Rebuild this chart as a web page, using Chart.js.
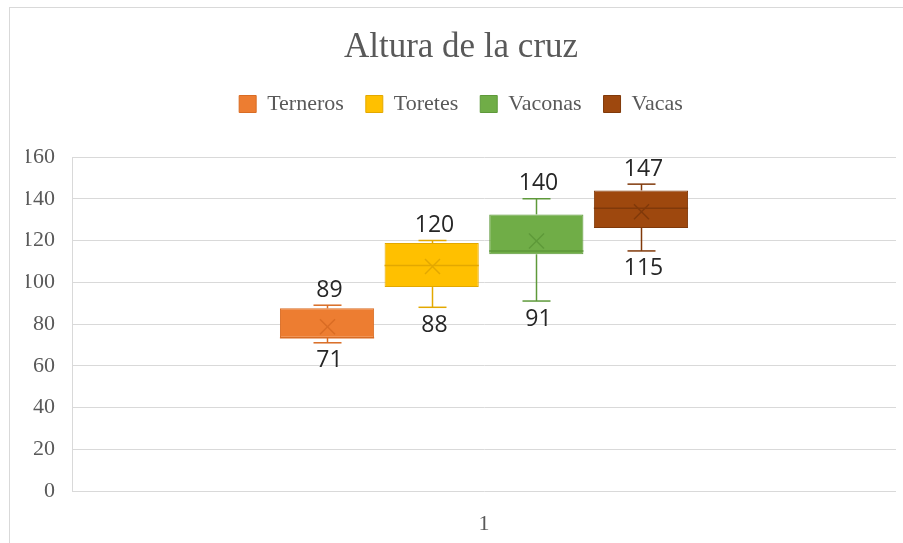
<!DOCTYPE html>
<html>
<head>
<meta charset="utf-8">
<title>Altura de la cruz</title>
<script src="https://cdn.jsdelivr.net/npm/chart.js@4.4.1/dist/chart.umd.min.js"></script>
<style>
  html, body { margin: 0; padding: 0; background: #ffffff; }
  #graph-container-altura { width: 903px; height: 543px; }
</style>
</head>
<body>
<div id="graph-container-altura"><canvas id="chart-graph-altura" width="903" height="543"></canvas></div>
<script>
// data
var categories = ['1'];
var groups = ['Terneros', 'Toretes', 'Vaconas', 'Vacas'];
var minValues = [71, 88, 91, 115];
var q1Values = [73.4, 97.7, 113.4, 126];
var medianValues = [73.4, 108, 115, 135.4];
var q3Values = [87.5, 118.8, 132.5, 144];
var maxValues = [89, 120, 140, 147];
var meanValues = [78.7, 107.5, 119.8, 133.8];
var yTicks = [0, 20, 40, 60, 80, 100, 120, 140, 160];

// styles
var fillColors = ['#ED7D31', '#FFC000', '#70AD47', '#9E480E'];
var lineColors = ['#D96C24', '#E3A800', '#5E993A', '#80390A'];
var serif = "'Liberation Serif', 'Times New Roman', serif";

function line(ctx, x1, y1, x2, y2) {
    ctx.beginPath();
    ctx.moveTo(x1, y1);
    ctx.lineTo(x2, y2);
    ctx.stroke();
}

// white page with the thin outer frame
var chartFrame = {
    id: 'chartFrame',
    beforeDraw: function (chart) {
        var ctx = chart.ctx;
        ctx.save();
        ctx.fillStyle = '#ffffff';
        ctx.fillRect(0, 0, chart.width, chart.height);
        ctx.strokeStyle = '#d9d9d9';
        ctx.lineWidth = 1;
        ctx.strokeRect(9.5, 7.5, chart.width + 10, chart.height + 10);
        ctx.restore();
    }
};

// whiskers, median, mean marker and min / max labels
var boxWhiskers = {
    id: 'boxWhiskers',
    afterDatasetsDraw: function (chart) {
        var ctx = chart.ctx;
        var yScale = chart.scales.y;
        ctx.save();
        chart.data.datasets.forEach(function (ds, i) {
            var bar = chart.getDatasetMeta(i).data[0];
            var x = Math.round(bar.x) + 0.5;
            var half = bar.width / 2;
            var yMin = yScale.getPixelForValue(minValues[i]);
            var yQ1 = yScale.getPixelForValue(q1Values[i]);
            var yMed = yScale.getPixelForValue(medianValues[i]);
            var yQ3 = yScale.getPixelForValue(q3Values[i]);
            var yMax = yScale.getPixelForValue(maxValues[i]);
            var yMean = yScale.getPixelForValue(meanValues[i]);

            ctx.strokeStyle = lineColors[i];
            ctx.lineWidth = 1.5;
            line(ctx, x, yMax, x, yQ3);
            line(ctx, x, yQ1, x, yMin);
            line(ctx, x - 14, yMax, x + 14, yMax);
            line(ctx, x - 14, yMin, x + 14, yMin);
            line(ctx, bar.x - half, yMed, bar.x + half, yMed);

            line(ctx, x - 7.5, yMean - 7.5, x + 7.5, yMean + 7.5);
            line(ctx, x - 7.5, yMean + 7.5, x + 7.5, yMean - 7.5);

            ctx.fillStyle = '#262626';
            ctx.font = "23px 'Open Sans', sans-serif";
            ctx.textAlign = 'center';
            ctx.textBaseline = 'middle';
            ctx.fillText(String(maxValues[i]), x + 2, yMax - 15);
            ctx.fillText(String(minValues[i]), x + 2, yMin + 18);
        });
        ctx.restore();
    }
};

function buildDatasets() {
    return groups.map(function (name, i) {
        return {
            label: name,
            data: [[q1Values[i], q3Values[i]]],
            backgroundColor: fillColors[i],
            borderColor: lineColors[i],
            borderWidth: 1,
            borderSkipped: false,
            barPercentage: 0.9,
            categoryPercentage: 0.508
        };
    });
}

new Chart(document.getElementById('chart-graph-altura').getContext('2d'), {
    type: 'bar',
    data: {
        labels: categories,
        datasets: buildDatasets()
    },
    options: {
        responsive: false,
        animation: false,
        layout: {
            padding: { left: 26, right: 7, top: 0, bottom: 0 }
        },
        plugins: {
            title: {
                display: true,
                text: 'Altura de la cruz',
                color: '#595959',
                font: { family: serif, size: 35, weight: 'normal', lineHeight: 1.2 },
                padding: { top: 27, bottom: 2 }
            },
            subtitle: {
                display: true,
                text: '',
                weight: 500,
                font: { size: 1, lineHeight: 1 },
                padding: { top: 31, bottom: 0 }
            },
            legend: {
                position: 'top',
                labels: {
                    boxWidth: 17,
                    boxHeight: 17,
                    padding: 22,
                    color: '#595959',
                    font: { family: serif, size: 22 }
                }
            },
            tooltip: { enabled: false }
        },
        scales: {
            x: {
                grid: { display: false },
                border: { display: false },
                ticks: {
                    color: '#595959',
                    padding: 12,
                    font: { family: serif, size: 22 }
                },
                afterFit: function (scale) {
                    scale.height = 52;
                }
            },
            y: {
                min: yTicks[0],
                max: yTicks[yTicks.length - 1],
                ticks: {
                    stepSize: yTicks[1] - yTicks[0],
                    color: '#595959',
                    padding: 17,
                    font: { family: serif, size: 22 }
                },
                grid: {
                    color: '#d9d9d9',
                    drawTicks: false
                },
                border: { color: '#d9d9d9' },
                afterFit: function (scale) {
                    scale.width = 46;
                }
            }
        }
    },
    plugins: [chartFrame, boxWhiskers]
});
</script>
</body>
</html>
